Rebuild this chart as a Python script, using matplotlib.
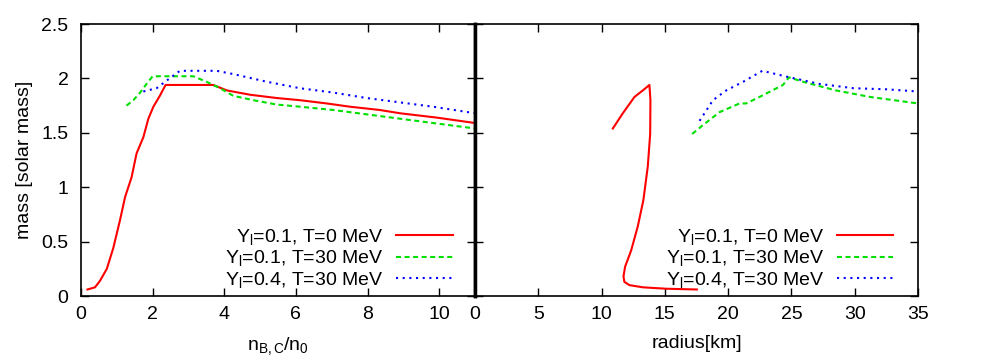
import numpy as np
import matplotlib
matplotlib.use("Agg")
from matplotlib import pyplot as plt

plt.rcParams['font.family'] = ['Liberation Sans', 'DejaVu Sans']
plt.rcParams['mathtext.fontset'] = 'custom'
plt.rcParams['mathtext.rm'] = 'Liberation Sans'
plt.rcParams['mathtext.it'] = 'Liberation Sans'
plt.rcParams['font.size'] = 14

# mass vs central density (n_B,C / n_0)
n_t0 = [0.18, 0.39, 0.53, 0.72, 0.90, 1.09, 1.23, 1.41, 1.55, 1.74, 1.88, 2.02, 2.20, 2.36,
        3.69, 4.07, 4.72, 5.46, 6.11, 6.86, 7.51, 8.34, 8.90, 9.93, 11.0]
m_t0 = [0.06, 0.08, 0.14, 0.25, 0.44, 0.70, 0.91, 1.09, 1.31, 1.46, 1.63, 1.74, 1.84, 1.94,
        1.94, 1.89, 1.85, 1.82, 1.80, 1.77, 1.74, 1.71, 1.68, 1.64, 1.59]

n_t30 = [1.27, 1.46, 1.65, 1.83, 2.00, 3.13, 3.50, 3.88, 4.25, 4.81, 5.46, 6.11, 7.04, 7.97,
         8.90, 9.83, 11.0]
m_t30 = [1.75, 1.80, 1.87, 1.95, 2.02, 2.02, 1.97, 1.91, 1.84, 1.80, 1.76, 1.74, 1.71, 1.67,
         1.63, 1.59, 1.54]

n_y04 = [1.74, 2.11, 2.39, 2.76, 3.79, 4.25, 5.18, 6.11, 7.04, 7.97, 8.90, 9.83, 11.0]
m_y04 = [1.88, 1.91, 1.98, 2.07, 2.07, 2.04, 1.97, 1.91, 1.87, 1.82, 1.78, 1.74, 1.68]

# mass vs radius
r_t0 = [10.89, 11.68, 12.6, 13.26, 13.78, 13.86, 13.84, 13.65, 13.3, 12.86, 12.34, 11.86,
        11.73, 11.8, 12.2, 13.26, 15.1, 17.53]
mr_t0 = [1.54, 1.68, 1.83, 1.89, 1.94, 1.80, 1.49, 1.19, 0.88, 0.64, 0.42, 0.27,
         0.18, 0.13, 0.10, 0.08, 0.067, 0.06]

r_t30 = [17.16, 18.0, 19.32, 20.9, 21.43, 22.48, 24.33, 24.8, 25.9, 28.5, 31.2, 35.0]
mr_t30 = [1.49, 1.57, 1.69, 1.77, 1.77, 1.83, 1.94, 2.01, 1.97, 1.89, 1.83, 1.77]

r_y04 = [17.74, 18.8, 19.85, 21.2, 22.7, 24.85, 27.2, 29.9, 32.5, 35.0]
mr_y04 = [1.61, 1.80, 1.89, 1.97, 2.07, 2.01, 1.95, 1.91, 1.90, 1.88]

labels = [r'Y$_\mathrm{l}$=0.1, T=0 MeV', r'Y$_\mathrm{l}$=0.1, T=30 MeV',
          r'Y$_\mathrm{l}$=0.4, T=30 MeV']

fig = plt.figure(figsize=(9.81, 3.56), dpi=100)
ax1 = fig.add_axes([0.0826, 0.1685, 0.4016, 0.764])
ax2 = fig.add_axes([0.4842, 0.1685, 0.4516, 0.764])

def draw(ax, xs, ys, legx):
    ax.plot(xs[0], ys[0], color='#ff0000', lw=1.5, label=labels[0])
    ax.plot(xs[1], ys[1], color='#00e000', lw=1.5, ls=(0, (2.4, 1.7)), label=labels[1])
    ax.plot(xs[2], ys[2], color='#0000ff', lw=1.5, ls=(0, (1.0, 2.2)), label=labels[2])
    ax.set_ylim(0, 2.5)
    ax.tick_params(direction='in', length=6, width=1, top=True, right=True, labelsize=14)
    ax.tick_params(axis='x', pad=7)
    ax.tick_params(axis='y', pad=9)
    for s in ax.spines.values():
        s.set_linewidth(1.2)
    leg = ax.legend(loc='lower right', bbox_to_anchor=(legx, -0.012), frameon=False,
                    markerfirst=False, handlelength=2.9, handletextpad=0.65,
                    labelspacing=0.06, borderpad=0, fontsize=14)
    return leg

draw(ax1, [n_t0, n_t30, n_y04], [m_t0, m_t30, m_y04], 0.968)
ax1.set_xlim(0, 11)
ax1.set_xticks([0, 2, 4, 6, 8, 10])
ax1.set_yticks([0, 0.5, 1, 1.5, 2, 2.5])
ax1.set_yticklabels(['0', '0.5', '1', '1.5', '2', '2.5'])
ax1.set_ylabel('mass [solar mass]', fontsize=14, labelpad=6)
ax1.set_xlabel(r'n$_\mathrm{B,C}$/n$_0$', fontsize=14, labelpad=9)
ax1.spines['right'].set_linewidth(2.5)

draw(ax2, [r_t0, r_t30, r_y04], [mr_t0, mr_t30, mr_y04], 0.966)
ax2.set_xlim(0, 35)
ax2.set_xticks([0, 5, 10, 15, 20, 25, 30, 35])
ax2.set_yticks([0, 0.5, 1, 1.5, 2, 2.5])
ax2.set_yticklabels([])
ax2.set_xlabel('radius[km]', fontsize=14, labelpad=9)
ax2.spines['left'].set_linewidth(2.5)

fig.savefig('out.png', dpi=100)
